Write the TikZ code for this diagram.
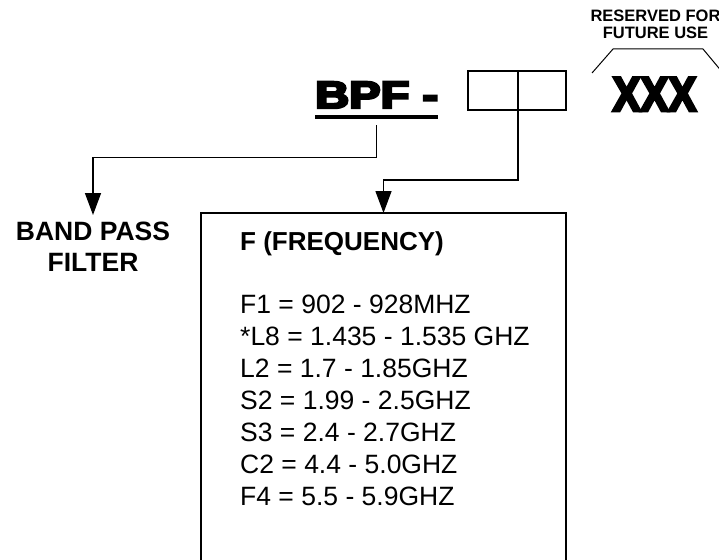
\documentclass[tikz,border=0pt]{standalone}
\usepackage{fontspec}
\setmainfont{Liberation Sans}
\newfontfamily\heavy{Liberation Sans Bold}[FakeBold=6]
\usetikzlibrary{arrows.meta}
\begin{document}
\begin{tikzpicture}[x=1pt,y=-1pt,
  conn/.style={line width=1.4pt, -{Triangle[length=22pt,width=16pt]}},
  frame/.style={draw, line width=1.4pt, inner sep=0pt, outer sep=0pt},
  listtxt/.style={anchor=base west, inner sep=0pt, font=\fontsize{26.5}{32}\selectfont},
  boldtxt/.style={inner sep=0pt, font=\bfseries}]
\clip (0,0) rectangle (719,559);
\fill[white] (0,0) rectangle (719,559);
% part number
\node[boldtxt, anchor=base west, font=\heavy\fontsize{38}{38}\selectfont] (bpf) at (315,108) {\scalebox{1.24}[1]{BPF -}};
\draw[line width=3.5pt] ([yshift=-9pt]bpf.base west) -- ([yshift=-9pt]bpf.base east);
\node[frame, minimum width=50pt, minimum height=39pt, anchor=north west] (b1) at (468,71) {};
\node[frame, minimum width=48pt, minimum height=39pt, anchor=north west] (b2) at (518,71) {};
\node[boldtxt, anchor=base, font=\heavy\fontsize{45}{45}\selectfont] (xxx) at (654.5,111) {\scalebox{0.93}[1.08]{XXX}};
% reserved
\node[boldtxt, anchor=north, align=center, font=\bfseries\fontsize{16.5}{17.5}\selectfont] (res) at (655.5,9.5) {RESERVED FOR\\FUTURE USE};
\draw[line width=1pt] (592,73) -- (613,49) -- (703,49) -- (723,73);
% band pass
\node[anchor=north, align=center, inner xsep=0pt, inner ysep=7pt, font=\bfseries\fontsize{26.5}{31}\selectfont] (band) at (93,215) {BAND PASS\\FILTER};
% frequency box
\node[frame, minimum width=365pt, minimum height=360pt, anchor=north west] (fbox) at (201,213) {};
\node[boldtxt, anchor=base west, font=\bfseries\fontsize{26}{30}\selectfont] (ftitle) at (240,250) {F (FREQUENCY)};
\foreach \t [count=\i] in {F1 = 902 - 928MHZ, *L8 = 1.435 - 1.535 GHZ, L2 = 1.7 - 1.85GHZ, S2 = 1.99 - 2.5GHZ, S3 = 2.4 - 2.7GHZ, C2 = 4.4 - 5.0GHZ, F4 = 5.5 - 5.9GHZ}
  \node[listtxt] (f\i) at (240,{313+32*(\i-1)}) {\t};
% connectors
\draw[conn] ([yshift=-17pt]bpf.south) -- ++(0,32) -| (band.north);
\draw[conn] (b1.south east) -- ++(0,70) -| (fbox.north);
\end{tikzpicture}
\end{document}
